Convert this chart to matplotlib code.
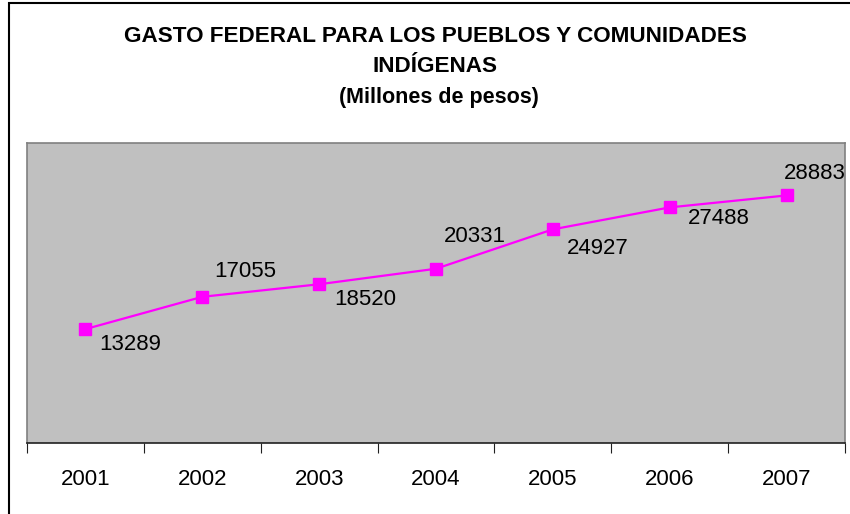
import matplotlib.pyplot as plt
from matplotlib.patches import Rectangle

plt.rcParams['font.family'] = ['Liberation Sans', 'DejaVu Sans']

anios = ['2001', '2002', '2003', '2004', '2005', '2006', '2007']
gasto = [13289, 17055, 18520, 20331, 24927, 27488, 28883]
# desplazamiento de cada etiqueta (puntos) respecto al marcador
desplaz = [(32, -11), (31, 18), (33, -11), (28, 23), (32, -14), (35, -8), (20, 16)]

fig = plt.figure(figsize=(8.5, 5.14), dpi=100)
fig.patches.append(Rectangle((9 / 850, -0.01), 845 / 850, 1.0 - 3 / 514 + 0.01,
                             transform=fig.transFigure, fill=False,
                             edgecolor='black', linewidth=1.5))

ax = fig.add_axes([27 / 850, 1 - 443 / 514, 818 / 850, 300 / 514])
ax.set_facecolor('#C0C0C0')
for s in ax.spines.values():
    s.set_color('#808080')
    s.set_linewidth(1.2)
ax.spines['bottom'].set_color('#202020')

x = list(range(len(anios)))
ax.plot(x, gasto, color='#FF00FF', linewidth=1.6, marker='s', markersize=8)
for xi, v, d in zip(x, gasto, desplaz):
    ax.annotate(str(v), (xi, v), xytext=d, textcoords='offset points',
                ha='center', va='center', fontsize=16, color='black')

ax.set_xlim(-0.5, len(anios) - 0.5)
ax.set_ylim(0, 35000)
ax.set_yticks([])
ax.set_xticks([i - 0.5 for i in range(len(anios) + 1)])
ax.set_xticklabels([])
ax.set_xticks(x, minor=True)
ax.set_xticklabels(anios, minor=True, fontsize=16)
ax.tick_params(axis='x', which='major', length=7, color='#202020')
ax.tick_params(axis='x', which='minor', length=0, pad=19)

cx = 435 / 850
fig.text(cx, 1 - 36 / 514, 'GASTO FEDERAL PARA LOS PUEBLOS Y COMUNIDADES',
         ha='center', va='center', fontsize=16.2, fontweight='bold')
fig.text(cx, 1 - 66 / 514, 'INDÍGENAS', ha='center', va='center',
         fontsize=16.2, fontweight='bold')
fig.text(cx + 4 / 850, 1 - 98 / 514, '(Millones de pesos)', ha='center', va='center',
         fontsize=15.5, fontweight='bold')

fig.savefig('out.png', dpi=100)
